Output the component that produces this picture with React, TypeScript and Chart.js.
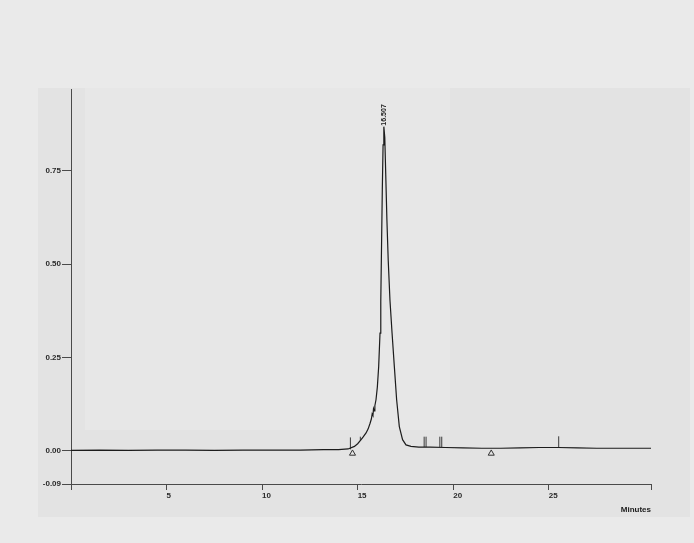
import React, { useEffect, useRef } from "react";
import { Chart, registerables } from "chart.js";

Chart.register(...registerables);

// Chromatogram trace: retention time (min) and detector response (AU)
const traceTimes = [
  0, 1.5, 3, 4.5, 6, 7.5, 9, 10.5, 12, 13.2, 14.0, 14.5, 14.83, 15.0, 15.18, 15.3,
  15.44, 15.55, 15.65, 15.72, 15.76, 15.8, 15.83, 15.87, 15.9, 15.96, 16.03, 16.1,
  16.17, 16.21, 16.25, 16.29, 16.33, 16.37, 16.42, 16.47, 16.53, 16.6, 16.69, 16.8,
  16.92, 17.04, 17.18, 17.35, 17.53, 17.79, 18.2, 18.8, 19.6, 20.5, 21.5, 22.5, 23.5,
  24.5, 25.5, 26.5, 27.5, 28.5, 29.5, 30.35,
];
const traceValues = [
  0.0, 0.001, 0.0, 0.001, 0.001, 0.0, 0.001, 0.001, 0.001, 0.002, 0.002, 0.004, 0.011,
  0.018, 0.029, 0.037, 0.047, 0.058, 0.073, 0.085, 0.098, 0.094, 0.112, 0.106, 0.12,
  0.136, 0.17, 0.225, 0.315, 0.4, 0.55, 0.7, 0.82, 0.869, 0.84, 0.74, 0.62, 0.51,
  0.404, 0.315, 0.225, 0.136, 0.064, 0.029, 0.015, 0.011, 0.009, 0.009, 0.008, 0.007,
  0.006, 0.006, 0.007, 0.008, 0.008, 0.007, 0.006, 0.006, 0.006, 0.006,
];

// Integration event marks (vertical ticks)
const eventTimes = [14.62, 15.14, 18.48, 18.58, 19.3, 19.4, 25.52];
const eventBase = [0.003, 0.027, 0.009, 0.009, 0.009, 0.009, 0.008];
const eventTop = [0.035, 0.037, 0.037, 0.037, 0.037, 0.037, 0.038];

// Baseline markers (triangles)
const baselineTimes = [14.73, 21.99];
const baselineValues = [-0.008, -0.008];

// Peak label
const peakLabel = "16.507";

// Axes
const xTickValues = [0, 5, 10, 15, 20, 25, 30.35];
const xMin = 0;
const xMax = 30.35;
const yTickValues = [-0.09, 0, 0.25, 0.5, 0.75];
const yMin = -0.09;
const yMax = 0.97;
const xTitle = "Minutes";

export default function App() {
  const canvasRef = useRef<HTMLCanvasElement | null>(null);

  useEffect(() => {
    document.body.style.margin = "0";
    const canvas = canvasRef.current;
    if (!canvas) return;

    const trace = traceTimes.map((t, i) => ({ x: t, y: traceValues[i] }));
    const events: { x: number; y: number | null }[] = [];
    eventTimes.forEach((t, i) => {
      events.push({ x: t, y: eventBase[i] });
      events.push({ x: t, y: eventTop[i] });
      events.push({ x: t, y: null });
    });
    const triangles = baselineTimes.map((t, i) => ({ x: t, y: baselineValues[i] }));

    const bgPlugin = {
      id: "paper",
      beforeDraw(chart: any) {
        const c = chart.ctx;
        c.save();
        c.fillStyle = "#eaeaea";
        c.fillRect(0, 0, chart.width, chart.height);
        c.fillStyle = "#e3e3e3";
        c.fillRect(38, 88, 652, 429);
        c.fillStyle = "#e7e7e7";
        c.fillRect(85, 88, 365, 342);
        c.restore();
      },
    };

    const peakLabelPlugin = {
      id: "peakLabel",
      afterDatasetsDraw(chart: any) {
        const meta = chart.getDatasetMeta(0);
        let maxI = 0;
        traceValues.forEach((v, i) => {
          if (v > traceValues[maxI]) maxI = i;
        });
        const pt = meta.data[maxI];
        const c = chart.ctx;
        c.save();
        c.translate(pt.x, pt.y - 1);
        c.rotate(-Math.PI / 2);
        c.font = "bold 7px 'Liberation Sans', Arial, sans-serif";
        c.fillStyle = "#1a1a1a";
        c.textAlign = "left";
        c.textBaseline = "middle";
        c.fillText(peakLabel, 0, 0);
        c.restore();
      },
    };

    const tickFont = { family: "'Liberation Sans', Arial, sans-serif", size: 8, weight: "bold" as const };

    const chart = new Chart(canvas, {
      type: "line",
      data: {
        datasets: [
          {
            data: trace,
            borderColor: "#1c1c1c",
            borderWidth: 1.2,
            pointRadius: 0,
            tension: 0,
          },
          {
            data: events as any,
            borderColor: "#3a3a3a",
            borderWidth: 1,
            pointRadius: 0,
            spanGaps: false,
          },
          {
            type: "scatter",
            data: triangles,
            pointStyle: "triangle",
            pointRadius: 3.5,
            borderColor: "#333333",
            backgroundColor: "#e4e4e4",
            borderWidth: 1,
            showLine: false,
          } as any,
        ],
      },
      plugins: [bgPlugin, peakLabelPlugin],
      options: {
        animation: false,
        responsive: false,
        layout: { padding: { top: 89, right: 43, left: 0, bottom: 0 } },
        plugins: { legend: { display: false }, tooltip: { enabled: false } },
        scales: {
          x: {
            type: "linear",
            min: xMin,
            max: xMax,
            afterBuildTicks: (s: any) => {
              s.ticks = xTickValues.map((v) => ({ value: v }));
            },
            afterFit: (s: any) => {
              s.height = 59;
            },
            ticks: {
              align: "start",
              padding: 1,
              color: "#2a2a2a",
              font: tickFont,
              maxRotation: 0,
              autoSkip: false,
              callback: (v: any) => (v === 0 || v === xMax ? "" : String(v)),
            },
            grid: { drawOnChartArea: false, drawTicks: true, tickLength: 6, color: "#4a4a4a", lineWidth: 1 },
            border: { display: true, color: "#4a4a4a", width: 1 },
            title: {
              display: true,
              text: xTitle,
              align: "end",
              color: "#1a1a1a",
              font: tickFont,
              padding: { top: 0, bottom: 28 },
            },
          },
          y: {
            type: "linear",
            min: yMin,
            max: yMax,
            afterBuildTicks: (s: any) => {
              s.ticks = yTickValues.map((v) => ({ value: v }));
            },
            afterFit: (s: any) => {
              s.width = 71;
            },
            ticks: {
              padding: 1,
              color: "#2a2a2a",
              font: tickFont,
              autoSkip: false,
              callback: (v: any) => Number(v).toFixed(2),
            },
            grid: { drawOnChartArea: false, drawTicks: true, tickLength: 9, color: "#4a4a4a", lineWidth: 1 },
            border: { display: true, color: "#4a4a4a", width: 1 },
          },
        },
      },
    } as any);

    return () => chart.destroy();
  }, []);

  return (
    <div style={{ position: "absolute", left: 0, top: 0, width: 694, height: 543 }}>
      <canvas ref={canvasRef} width={694} height={543} />
    </div>
  );
}
